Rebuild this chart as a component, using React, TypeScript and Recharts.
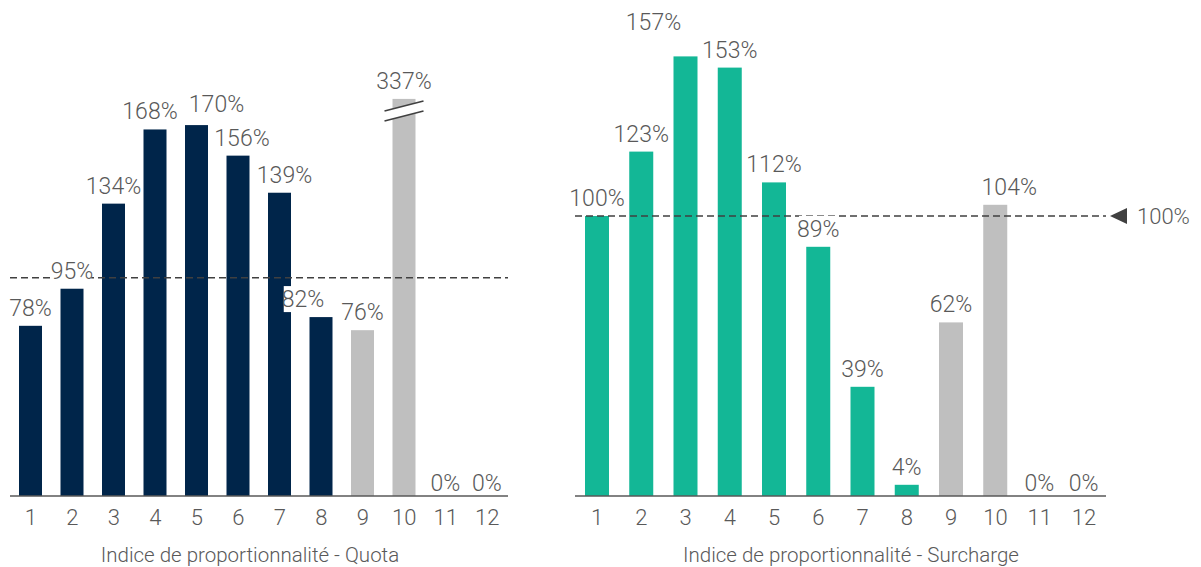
import React from "react";
import { BarChart, Bar, XAxis, YAxis, Cell, LabelList, ReferenceLine } from "recharts";

const categories = ["1", "2", "3", "4", "5", "6", "7", "8", "9", "10", "11", "12"];
const quotaValues = [78, 95, 134, 168, 170, 156, 139, 82, 76, 337, 0, 0];
const surchargeValues = [100, 123, 157, 153, 112, 89, 39, 4, 62, 104, 0, 0];
// bars 9 and 10 are drawn in grey
const greyFrom = 8;
const quotaCap = 182; // bar 10 is cut with a break mark above this

// hand nudges of some value labels so they don't collide: [dx, dy]
const quotaLabelShift: Record<number, [number, number]> = {
  3: [-5, 0],
  4: [20, -3],
  5: [4, 0],
  6: [5, 0],
  7: [-18, 0],
};
const surchargeLabelShift: Record<number, [number, number]> = {
  2: [-32, -16],
  9: [14, 0],
};

const NAVY = "#00254a";
const TEAL = "#13b796";
const GREY = "#bfbfbf";
const TEXT = "#595959";
const LINE = "#404040";
const FONT = "Roboto, 'Open Sans', sans-serif";

const quotaData = categories.map((c, i) => ({
  cat: c,
  real: quotaValues[i],
  shown: Math.min(quotaValues[i], quotaCap),
}));
const surchargeData = categories.map((c, i) => ({
  cat: c,
  real: surchargeValues[i],
  shown: surchargeValues[i],
}));

const BASE_Y = 496;

function makeLabel(shifts: Record<number, [number, number]>) {
  return function ValueLabel(props: any) {
    const { x, y, width, value, index } = props;
    const txt = `${value}%`;
    const fs = 23;
    const [dx, dy] = shifts[index] || [0, 0];
    const gap = value === 0 ? 5 : 10;
    const baseline = y - gap + dy;
    const w = txt.length * fs * 0.5 + 4;
    const cx = x + width / 2 + dx;
    return (
      <g>
        {value !== 0 && (
          <rect x={cx - w / 2} y={baseline - 21} width={w} height={26} fill="#ffffff" />
        )}
        <text
          x={cx}
          y={baseline}
          textAnchor="middle"
          fontSize={fs}
          fontWeight={300}
          fontFamily={FONT}
          fill={TEXT}
        >
          {txt}
        </text>
      </g>
    );
  };
}

const QuotaLabel = makeLabel(quotaLabelShift);
const SurchargeLabel = makeLabel(surchargeLabelShift);

function CatTick(props: any) {
  const { x, payload } = props;
  return (
    <text
      x={x}
      y={BASE_Y + 29}
      textAnchor="middle"
      fontSize={22}
      fontWeight={300}
      fontFamily={FONT}
      fill={TEXT}
    >
      {payload.value}
    </text>
  );
}

function BrokenBar(props: any) {
  const { x, y, width, height, fill, payload } = props;
  if (!height || height <= 0) return null;
  const rect = <rect x={x} y={y} width={width} height={height} fill={fill} />;
  if (payload.real <= quotaCap) return rect;
  const x1 = x - 8;
  const x2 = x + width + 8;
  return (
    <g>
      {rect}
      <polygon
        points={`${x1},${y + 12} ${x2},${y + 2} ${x2},${y + 12} ${x1},${y + 22}`}
        fill="#ffffff"
      />
      <line x1={x1} y1={y + 12} x2={x2} y2={y + 2} stroke={LINE} strokeWidth={1.5} />
      <line x1={x1} y1={y + 22} x2={x2} y2={y + 12} stroke={LINE} strokeWidth={1.5} />
    </g>
  );
}

function RefMarker(props: any) {
  const { viewBox } = props;
  const yy = viewBox.y;
  const xr = viewBox.x + viewBox.width;
  return (
    <g>
      <polygon points={`${xr + 4},${yy} ${xr + 21},${yy - 8} ${xr + 21},${yy + 8}`} fill={LINE} />
      <text
        x={xr + 31}
        y={yy + 8}
        fontSize={22}
        fontWeight={300}
        fontFamily={FONT}
        fill={TEXT}
      >
        100%
      </text>
    </g>
  );
}

function Title({ left, children }: { left: number; children: React.ReactNode }) {
  return (
    <div
      style={{
        position: "absolute",
        left,
        top: 543,
        width: 500,
        textAlign: "center",
        fontFamily: FONT,
        fontWeight: 300,
        fontSize: 20.5,
        lineHeight: "24px",
        color: TEXT,
        whiteSpace: "nowrap",
      }}
    >
      {children}
    </div>
  );
}

export default function App() {
  return (
    <div
      style={{
        position: "absolute",
        left: 0,
        top: 0,
        width: 1201,
        height: 567,
        background: "#ffffff",
        overflow: "hidden",
      }}
    >
      {/* Quota */}
      <div style={{ position: "absolute", left: 0, top: 0 }}>
        <BarChart
          width={600}
          height={567}
          data={quotaData}
          margin={{ top: 16, right: 92, bottom: 31, left: 10 }}
          barCategoryGap={0}
        >
          <XAxis
            dataKey="cat"
            height={40}
            tickLine={false}
            axisLine={{ stroke: TEXT, strokeWidth: 1.5 }}
            tick={<CatTick />}
            interval={0}
          />
          <YAxis hide domain={[0, 220]} />
          <ReferenceLine y={100} stroke={LINE} strokeWidth={1.5} strokeDasharray="7 4" />
          <Bar dataKey="shown" barSize={23} isAnimationActive={false} shape={<BrokenBar />}>
            {quotaData.map((d, i) => (
              <Cell key={d.cat} fill={i >= greyFrom ? GREY : NAVY} />
            ))}
            <LabelList dataKey="real" content={<QuotaLabel />} />
          </Bar>
        </BarChart>
      </div>
      <Title left={0}>Indice de proportionnalité - Quota</Title>

      {/* Surcharge */}
      <div style={{ position: "absolute", left: 560, top: 0 }}>
        <BarChart
          width={641}
          height={567}
          data={surchargeData}
          margin={{ top: 20, right: 95, bottom: 31, left: 15 }}
          barCategoryGap={0}
        >
          <XAxis
            dataKey="cat"
            height={40}
            tickLine={false}
            axisLine={{ stroke: TEXT, strokeWidth: 1.5 }}
            tick={<CatTick />}
            interval={0}
          />
          <YAxis hide domain={[0, 170]} />
          <ReferenceLine
            y={100}
            stroke={LINE}
            strokeWidth={1.5}
            strokeDasharray="7 4"
            label={<RefMarker />}
          />
          <Bar dataKey="shown" barSize={24} isAnimationActive={false} shape={<BrokenBar />}>
            {surchargeData.map((d, i) => (
              <Cell key={d.cat} fill={i >= greyFrom ? GREY : TEAL} />
            ))}
            <LabelList dataKey="real" content={<SurchargeLabel />} />
          </Bar>
        </BarChart>
      </div>
      <Title left={601}>Indice de proportionnalité - Surcharge</Title>
    </div>
  );
}
